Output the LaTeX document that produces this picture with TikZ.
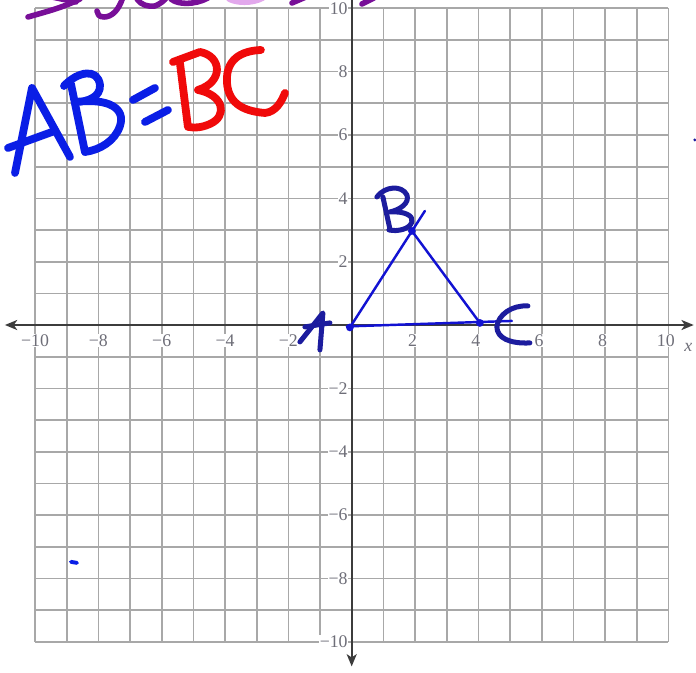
\documentclass[tikz,border=0pt]{standalone}
\usepackage{fontspec}
\setmainfont{Liberation Serif}
\usetikzlibrary{arrows.meta}
\definecolor{gridgray}{HTML}{A8A8A8}
\definecolor{axisgray}{HTML}{3C3C3C}
\definecolor{lblgray}{HTML}{6E6E78}
\definecolor{penblue}{HTML}{0A1EE6}
\definecolor{penred}{HTML}{F00A0A}
\definecolor{penpurple}{HTML}{780F98}
\definecolor{penpink}{HTML}{E2A8EC}
\definecolor{pennavy}{HTML}{1C1C9E}
\definecolor{tri}{HTML}{1212D2}
\tikzset{
  gridline/.style={draw=gridgray, line width=1.5pt},
  axisline/.style={draw=axisgray, line width=1.8pt, -{Stealth[length=11pt,width=9pt,inset=3pt]}},
  ticklbl/.style={text=lblgray, font=\fontsize{16}{16}\selectfont, inner sep=0.6pt, fill=white},
  ink/.style={line cap=round, line join=round},
  bluepen/.style={ink, draw=penblue, line width=7pt},
  redpen/.style={ink, draw=penred, line width=7pt},
  purplepen/.style={ink, draw=penpurple, line width=5pt},
  pinkpen/.style={ink, draw=penpink, line width=5pt},
  navypen/.style={ink, draw=pennavy, line width=4.5pt},
  triline/.style={ink, draw=tri, line width=2.2pt},
  vertexdot/.style={circle, fill=tri, inner sep=0pt, minimum size=7pt}
}
\begin{document}
\begin{tikzpicture}
\useasboundingbox (-11.106,-10.988) rectangle (10.872,10.263);
\fill[white] (-11.106,-10.988) rectangle (10.872,10.263);
% grid
\foreach \i in {-10,...,10} {
  \draw[gridline] (\i,-10) -- (\i,10);
  \draw[gridline] (-10,\i) -- (10,\i);
}
% axes
\coordinate (xl) at (-10.95,0);
\coordinate (xr) at (10.80,0);
\coordinate (yt) at (0,10.4);
\coordinate (yb) at (0,-10.78);
\draw[axisline] (0,0) -- (xr);
\draw[axisline] (0,0) -- (xl);
\draw[axisline] (0,0) -- (yb);
\draw[draw=axisgray, line width=1.8pt] (0,0) -- (yt);
% tick labels
\foreach \i in {2,4,6,8,10} {
  \node[ticklbl] (xp\i) at (\i-0.08,-0.48) {\i};
  \node[ticklbl] (xn\i) at (-\i,-0.48) {−\i};
  \node[ticklbl, anchor=east] (yp\i) at (-0.1,\i) {\i};
  \node[ticklbl, anchor=east] (yn\i) at (-0.1,-\i) {−\i};
}
\node[text=lblgray, font=\fontsize{16}{16}\selectfont\itshape, inner sep=0pt] (xname) at (10.63,-0.7) {x};
% handwriting in pixel coordinates
\begin{scope}[shift={(-11.106,10.263)}, x=0.031576cm, y=-0.031576cm]
  % purple top (cut off)
  \draw[purplepen] (28,17) .. controls (45,12) and (62,8) .. (80,-1);
  \draw[purplepen] (52,-3) -- (76,2);
  \draw[purplepen] (123,-3) .. controls (119,10) and (112,17) .. (104,17) .. controls (99,17) and (97,14) .. (97,11);
  \draw[purplepen] (137,-1) .. controls (141,5) and (148,7) .. (155,6) .. controls (160,4) and (164,1) .. (167,-3);
  \draw[purplepen] (171,-1) .. controls (178,5) and (195,5) .. (208,-2);
  \draw[pinkpen] (229,-1) .. controls (236,3) and (252,4) .. (263,-2);
  \draw[purplepen] (292,3) -- (306,-3);
  \draw[purplepen] (362,4) -- (374,-2);
  % blue AB=
  \draw[bluepen] (15,173) -- (32,88) -- (70,157);
  \draw[bluepen] (8,148) -- (52,132);
  \draw[bluepen] (71,84) -- (85,152);
  \draw[bluepen] (64,86) .. controls (78,71) and (98,68) .. (100,85) .. controls (101,97) and (87,102) .. (76,102) .. controls (108,98) and (126,108) .. (120,126) .. controls (115,141) and (100,150) .. (85,152);
  \draw[bluepen] (133,100) -- (155,88);
  \draw[bluepen] (145,122) -- (168,110);
  % red BC
  \draw[redpen] (173,62) -- (200,52) .. controls (222,56) and (224,82) .. (198,90) .. controls (224,95) and (228,116) .. (210,124) .. controls (201,128) and (194,128) .. (189,127);
  \draw[redpen] (180,63) -- (188,127);
  \draw[redpen] (261,50) .. controls (240,51) and (226,60) .. (227,82) .. controls (228,101) and (240,111) .. (265,113) .. controls (276,112) and (282,101) .. (285,93);
  % triangle
  \coordinate (A) at (350,327.5);
  \coordinate (B) at (412,231);
  \coordinate (C) at (480,323);
  \coordinate (Bx) at (425,211);
  \coordinate (Cx) at (512,321);
  \coordinate (A0) at (347,326.5);
  \draw[triline] (A) -- (Bx);
  \draw[triline] (B) -- (C);
  \draw[triline] (A0) -- (Cx);
  \node[vertexdot] (dA) at (A) {};
  \node[vertexdot] (dB) at (B) {};
  \node[vertexdot] (dC) at (C) {};
  % vertex letters
  \draw[navypen] (383,197) -- (390,229);
  \draw[navypen] (377,197) .. controls (385,186) and (402,185) .. (407,195) .. controls (410,203) and (400,210) .. (390,212) .. controls (405,211) and (414,216) .. (412,222) .. controls (410,229) and (398,232) .. (389,230);
  \draw[navypen] (300,342) -- (323,313) -- (320,350);
  \draw[navypen] (305,327) -- (330,323);
  \draw[navypen] (528,306) .. controls (512,305) and (498,315) .. (497,327) .. controls (497,338) and (510,344) .. (530,343);
  % stray marks
  \draw[ink, draw=penblue, line width=3.5pt] (71,562) -- (77,563);
  \fill[pennavy] (695,140) circle (1.6);
\end{scope}
\end{tikzpicture}
\end{document}
